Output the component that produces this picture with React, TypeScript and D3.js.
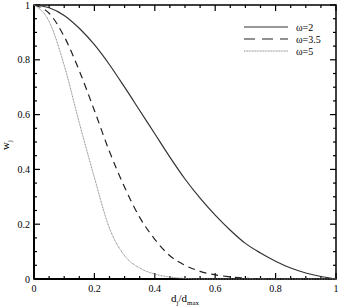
import React, { useEffect, useRef } from 'react';
import * as d3 from 'd3';

// values
const xs = [0, 0.05, 0.1, 0.15, 0.2, 0.25, 0.3, 0.35, 0.4, 0.45, 0.5, 0.55, 0.6, 0.65, 0.7, 0.75, 0.8, 0.85, 0.9, 0.95, 1];
const w2 = [1, 0.99, 0.962, 0.915, 0.855, 0.782, 0.7, 0.615, 0.53, 0.445, 0.365, 0.295, 0.233, 0.178, 0.13, 0.095, 0.065, 0.04, 0.022, 0.009, 0];
const w35 = [1, 0.97, 0.885, 0.76, 0.615, 0.465, 0.335, 0.225, 0.145, 0.085, 0.05, 0.028, 0.015, 0.008, 0.003, 0.001, 0, 0, 0, 0, 0];
const w5 = [1, 0.94, 0.78, 0.57, 0.37, 0.185, 0.085, 0.04, 0.018, 0.007, 0.002, 0, 0, 0, 0, 0, 0, 0, 0, 0, 0];
const seriesNames = ['ω=2', 'ω=3.5', 'ω=5'];
const xTicks = [0, 0.2, 0.4, 0.6, 0.8, 1];
const yTicks = [0, 0.2, 0.4, 0.6, 0.8, 1];

const styles = [
  { stroke: '#333', width: 1.2, dash: null },
  { stroke: '#222', width: 1.2, dash: '7,5' },
  { stroke: '#888', width: 1, dash: '1,0.6' },
];

const Chart = () => {
  const ref = useRef(null);
  const margin = { top: 5, right: 15, bottom: 29, left: 34 };
  const width = 351;
  const height = 308;
  const w = width - margin.left - margin.right;
  const h = height - margin.top - margin.bottom;

  useEffect(() => {
    const g = d3.select(ref.current);
    g.selectAll('*').remove();

    const x = d3.scaleLinear().domain([0, 1]).range([0, w]);
    const y = d3.scaleLinear().domain([0, 1]).range([h, 0]);
    const minor = d3.range(0, 1.0001, 0.05);
    const font = "'Liberation Serif', 'Times New Roman', serif";

    // ticks pointing inward on all four sides
    const tickG = g.append('g').attr('stroke', '#000');
    minor.forEach((v, i) => {
      const len = i % 4 === 0 ? 6 : 3;
      tickG.append('line').attr('x1', x(v)).attr('x2', x(v)).attr('y1', h).attr('y2', h - len).attr('stroke-width', 1.2);
      tickG.append('line').attr('x1', x(v)).attr('x2', x(v)).attr('y1', 0).attr('y2', len).attr('stroke-width', 1.2);
      tickG.append('line').attr('x1', 0).attr('x2', len).attr('y1', y(v)).attr('y2', y(v)).attr('stroke-width', 1.2);
      tickG.append('line').attr('x1', w).attr('x2', w - len).attr('y1', y(v)).attr('y2', y(v)).attr('stroke-width', 1.2);
    });

    // frame
    g.append('rect')
      .attr('x', 0).attr('y', 0).attr('width', w).attr('height', h)
      .attr('fill', 'none').attr('stroke', '#000').attr('stroke-width', 1.5);
    g.append('line').attr('x1', 0).attr('x2', 0).attr('y1', 0).attr('y2', h).attr('stroke', '#000').attr('stroke-width', 2);
    g.append('line').attr('x1', 0).attr('x2', w).attr('y1', h).attr('y2', h).attr('stroke', '#000').attr('stroke-width', 2);

    // tick labels
    g.selectAll('.xl').data(xTicks).join('text')
      .attr('class', 'xl')
      .attr('x', (d) => x(d)).attr('y', h + 13)
      .attr('text-anchor', 'middle')
      .style('font-family', font).style('font-size', '10px')
      .text((d) => d3.format('')(d));
    g.selectAll('.yl').data(yTicks).join('text')
      .attr('class', 'yl')
      .attr('x', -4).attr('y', (d) => y(d) + 3.5)
      .attr('text-anchor', 'end')
      .style('font-family', font).style('font-size', '10px')
      .text((d) => d3.format('')(d));

    // curves
    const all = [w2, w35, w5];
    const line = d3.line().x((d) => x(d[0])).y((d) => y(d[1])).curve(d3.curveMonotoneX);
    all.forEach((vals, i) => {
      const s = styles[i];
      g.append('path')
        .datum(xs.map((v, j) => [v, vals[j]]))
        .attr('d', line)
        .attr('fill', 'none')
        .attr('stroke', s.stroke)
        .attr('stroke-width', s.width)
        .attr('stroke-dasharray', s.dash);
    });

    // legend
    const lg = g.append('g').attr('transform', `translate(${210}, ${22})`);
    seriesNames.forEach((name, i) => {
      const s = styles[i];
      lg.append('line')
        .attr('x1', 0).attr('x2', 44).attr('y1', i * 12).attr('y2', i * 12)
        .attr('stroke', s.stroke).attr('stroke-width', s.width)
        .attr('stroke-dasharray', i === 1 ? '11,7' : s.dash);
      lg.append('text')
        .attr('x', 52).attr('y', i * 12 + 3.5)
        .style('font-family', font).style('font-size', '10px')
        .text(name);
    });

    // axis titles
    const xt = g.append('text')
      .attr('x', w / 2).attr('y', h + 23)
      .attr('text-anchor', 'middle')
      .style('font-family', font).style('font-size', '11px');
    xt.append('tspan').text('d');
    xt.append('tspan').attr('dy', 2.5).style('font-size', '7px').text('j');
    xt.append('tspan').attr('dy', -2.5).text('/d');
    xt.append('tspan').attr('dy', 2.5).style('font-size', '7px').text('max');

    const yt = g.append('text')
      .attr('transform', `translate(${-25}, ${h / 2 + 3}) rotate(-90)`)
      .attr('text-anchor', 'middle')
      .style('font-family', font).style('font-size', '11px');
    yt.append('tspan').text('w');
    yt.append('tspan').attr('dy', 2.5).style('font-size', '7px').text('j');
  }, [w, h]);

  return (
    <svg width={width} height={height} style={{ display: 'block', background: '#fff' }}>
      <g ref={ref} transform={`translate(${margin.left}, ${margin.top})`} />
    </svg>
  );
};

export default function App() {
  return (
    <div style={{ position: 'absolute', left: 0, top: 0 }}>
      <Chart />
    </div>
  );
}
